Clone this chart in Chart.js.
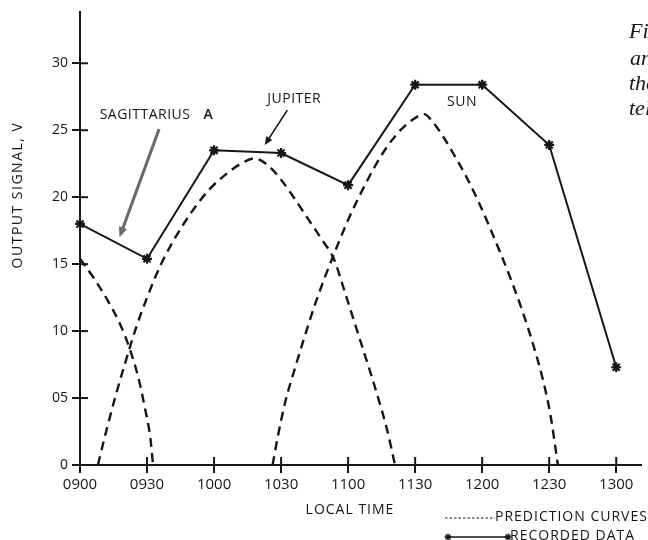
<!DOCTYPE html>
<html>
<head>
<meta charset="utf-8">
<script src="https://cdn.jsdelivr.net/npm/chart.js@4.4.1/dist/chart.umd.min.js"></script>
<style>
  html, body { margin: 0; background: #fff; }
  #wrap { width: 648px; height: 540px; position: relative; }
</style>
</head>
<body>
<div id="wrap"><canvas id="c"></canvas></div>
<script>
// x values are minutes after 0900 local time
const timeLabels = ['0900', '0930', '1000', '1030', '1100', '1130', '1200', '1230', '1300'];

const recTimes  = [0, 30, 60, 90, 120, 150, 180, 210, 240];
const recValues = [18.0, 15.4, 23.5, 23.3, 20.9, 28.4, 28.4, 23.9, 7.3];

// prediction curves
const sagTimes  = [0, 6, 12, 18, 22, 26, 29, 31.5, 32.7];
const sagValues = [15.4, 14.0, 12.4, 10.5, 8.8, 6.6, 4.3, 2.0, 0];

const jupTimes  = [8, 12, 16, 20, 25, 30, 36, 42, 50, 58, 66, 72, 78,
                   84, 90, 96, 102, 108, 113.6, 118, 122, 126, 130, 134, 137.5, 141];
const jupValues = [0, 2.7, 5.2, 7.5, 10.2, 12.5, 14.9, 16.8, 18.9, 20.6, 21.8, 22.5, 22.9,
                   22.4, 21.3, 19.9, 18.4, 16.9, 15.4, 13.2, 11.1, 9.0, 6.9, 4.7, 2.6, 0];

const sunTimes  = [86.2, 88.5, 92, 96, 100, 105, 110, 115, 120, 126, 132, 138, 144, 149, 154,
                   158, 163, 168, 173, 178, 183, 188, 193, 198, 203, 207, 210.5, 213.9];
const sunValues = [0, 2.1, 4.8, 7.1, 9.3, 11.9, 14.2, 16.3, 18.3, 20.4, 22.3, 23.9, 25.1, 25.8, 26.2,
                   25.6, 24.4, 23.0, 21.5, 19.8, 17.9, 15.9, 13.8, 11.5, 8.9, 6.5, 3.8, 0];

const INK = '#161616';
const FONT = "'Open Sans', 'DejaVu Sans', sans-serif";

const pts = (xs, ys) => xs.map((x, i) => ({ x, y: ys[i] }));

function dashed(label, xs, ys) {
  return {
    label, data: pts(xs, ys), borderColor: INK, borderWidth: 2.4, borderDash: [9, 6],
    pointRadius: 0, cubicInterpolationMode: 'monotone', fill: false
  };
}

function arrow(ctx, x1, y1, x2, y2, color, width, head) {
  const a = Math.atan2(y2 - y1, x2 - x1);
  ctx.save();
  ctx.strokeStyle = color; ctx.fillStyle = color; ctx.lineWidth = width;
  ctx.beginPath();
  ctx.moveTo(x1, y1);
  ctx.lineTo(x2 - Math.cos(a) * head * 0.7, y2 - Math.sin(a) * head * 0.7);
  ctx.stroke();
  ctx.beginPath();
  ctx.moveTo(x2, y2);
  ctx.lineTo(x2 - head * Math.cos(a - 0.4), y2 - head * Math.sin(a - 0.4));
  ctx.lineTo(x2 - head * Math.cos(a + 0.4), y2 - head * Math.sin(a + 0.4));
  ctx.closePath();
  ctx.fill();
  ctx.restore();
}

function star(ctx, x, y, r) {
  ctx.beginPath();
  for (let k = 0; k < 4; k++) {
    const a = k * Math.PI / 4;
    ctx.moveTo(x - r * Math.cos(a), y - r * Math.sin(a));
    ctx.lineTo(x + r * Math.cos(a), y + r * Math.sin(a));
  }
  ctx.stroke();
}

// inward tick marks, source labels, titles and legend
const extras = {
  id: 'extras',
  afterDraw(chart) {
    const { ctx, scales: { x, y } } = chart;
    const X = v => x.getPixelForValue(v);
    const Y = v => y.getPixelForValue(v);

    ctx.save();
    ctx.strokeStyle = INK; ctx.lineWidth = 2;
    x.ticks.forEach(t => {
      if (t.value === 0) return;
      ctx.beginPath(); ctx.moveTo(X(t.value), y.bottom); ctx.lineTo(X(t.value), y.bottom - 8); ctx.stroke();
    });
    y.ticks.forEach(t => {
      if (t.value === 0) return;
      ctx.beginPath(); ctx.moveTo(x.left, Y(t.value)); ctx.lineTo(x.left + 8, Y(t.value)); ctx.stroke();
    });

    ctx.fillStyle = INK;
    ctx.textBaseline = 'middle';
    ctx.textAlign = 'left';
    ctx.letterSpacing = '0.5px';
    ctx.font = '14px ' + FONT;
    ctx.fillText('SAGITTARIUS', X(8.8), Y(26.1));
    ctx.font = '600 14px ' + FONT;
    ctx.fillText('A', X(55.3), Y(26.1));
    ctx.font = '14px ' + FONT;
    ctx.textAlign = 'center';
    ctx.fillText('JUPITER', X(95.9), Y(27.3));
    ctx.fillText('SUN', X(171), Y(27.1));

    arrow(ctx, X(35.4), Y(25.1), X(17.7), Y(17.0), '#6a6a6a', 3, 11);
    arrow(ctx, X(92.8), Y(26.5), X(82.7), Y(23.9), INK, 1.6, 9);

    // axis titles
    ctx.letterSpacing = '1px';
    ctx.font = '14px ' + FONT;
    ctx.fillText('LOCAL TIME', 350, 510);
    ctx.save();
    ctx.letterSpacing = '1.5px';
    ctx.translate(18, 195);
    ctx.rotate(-Math.PI / 2);
    ctx.fillText('OUTPUT SIGNAL, V', 0, 0);
    ctx.restore();

    // legend
    ctx.textAlign = 'left';
    ctx.letterSpacing = '1px';
    ctx.font = '14px ' + FONT;
    ctx.lineWidth = 1;
    ctx.setLineDash([2.5, 2]);
    ctx.beginPath(); ctx.moveTo(445, 518); ctx.lineTo(495, 518); ctx.stroke();
    ctx.setLineDash([]);
    ctx.fillText('PREDICTION CURVES', 495, 517);
    ctx.lineWidth = 1.6;
    ctx.beginPath(); ctx.moveTo(447, 537); ctx.lineTo(508, 537); ctx.stroke();
    ctx.lineWidth = 1.3;
    star(ctx, 448, 537, 3.5); star(ctx, 508, 537, 3.5);
    ctx.fillText('RECORDED DATA', 510, 536);

    // cut-off figure caption at the right edge
    ctx.letterSpacing = '0px';
    ctx.font = 'italic 22px "Liberation Serif", serif';
    ctx.textBaseline = 'alphabetic';
    ctx.fillText('Fig. 4', 629, 38);
    ctx.fillText('and', 630, 65);
    ctx.fillText('the', 629, 90);
    ctx.fillText('tel', 629, 115);
    ctx.restore();
  }
};

new Chart(document.getElementById('c'), {
  type: 'line',
  data: {
    datasets: [
      {
        label: 'Recorded data', data: pts(recTimes, recValues), borderColor: INK, borderWidth: 2,
        pointStyle: 'star', pointRadius: 5, pointBorderWidth: 2.2, pointBorderColor: INK,
        tension: 0, fill: false, clip: false
      },
      dashed('Sagittarius A', sagTimes, sagValues),
      dashed('Jupiter', jupTimes, jupValues),
      dashed('Sun', sunTimes, sunValues)
    ]
  },
  options: {
    responsive: true, maintainAspectRatio: false, animation: false,
    layout: { padding: { top: 10, left: 0, right: 0, bottom: 0 } },
    plugins: { legend: { display: false }, tooltip: { enabled: false } },
    scales: {
      x: {
        type: 'linear', min: 0, max: 251,
        afterFit: s => { s.height = 75; },
        border: { color: INK, width: 2 },
        grid: { drawOnChartArea: false, drawTicks: true, tickLength: 8, color: INK, lineWidth: 2 },
        ticks: {
          stepSize: 30, includeBounds: false, autoSkip: false, maxRotation: 0, padding: 3,
          color: INK, font: { family: FONT, size: 15 },
          callback: v => timeLabels[v / 30] ?? ''
        }
      },
      y: {
        min: 0, max: 33.8,
        afterFit: s => { s.width = 80; },
        border: { color: INK, width: 2 },
        grid: { drawOnChartArea: false, drawTicks: true, tickLength: 8, color: INK, lineWidth: 2 },
        ticks: {
          stepSize: 5, includeBounds: false, padding: 4,
          color: INK, font: { family: FONT, size: 14 },
          callback: v => (v === 5 ? '05' : String(v))
        }
      }
    }
  },
  plugins: [extras]
});
</script>
</body>
</html>
